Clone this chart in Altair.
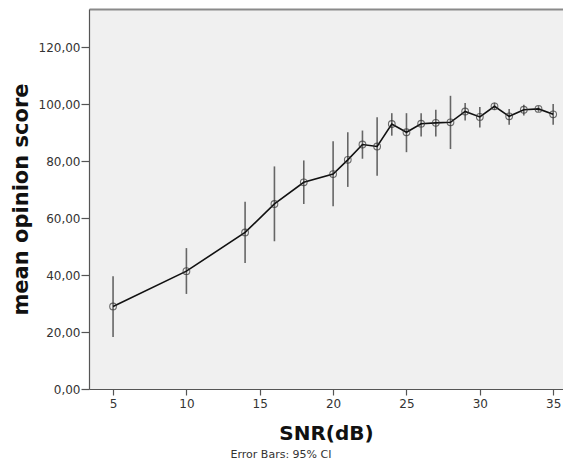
import altair as alt
import pandas as pd

snr = [5, 10, 14, 16, 18, 20, 21, 22, 23, 24, 25, 26, 27, 28, 29, 30, 31, 32, 33, 34, 35]
mean_score = [29.0, 41.4, 55.0, 65.0, 72.6, 75.5, 80.5, 85.9, 85.2, 93.1, 90.2,
              93.2, 93.5, 93.7, 97.5, 95.6, 99.3, 95.8, 98.1, 98.4, 96.5]
ci_low = [18.3, 33.4, 44.3, 51.9, 65.0, 64.2, 71.0, 80.9, 74.9, 89.0, 83.2,
          88.7, 88.7, 84.3, 94.3, 91.9, 98.0, 92.8, 96.1, 97.4, 92.8]
ci_high = [39.6, 49.5, 65.8, 78.2, 80.3, 87.0, 90.2, 90.8, 95.5, 96.9, 96.9,
           96.9, 98.1, 103.0, 100.5, 99.1, 100.6, 98.4, 99.9, 99.4, 100.1]
x_ticks = [5, 10, 15, 20, 25, 30, 35]
y_ticks = [0, 20, 40, 60, 80, 100, 120]

df = pd.DataFrame({"snr": snr, "mean": mean_score, "lo": ci_low, "hi": ci_high})

xscale = alt.Scale(domain=[3.36, 35.67], nice=False, zero=False)
yscale = alt.Scale(domain=[0, 133.5], nice=False, zero=False)

FONT = "DejaVu Sans"

xaxis = alt.Axis(
    values=x_ticks, grid=False, title="SNR(dB)", titleFont=FONT, titleFontSize=20,
    titleFontWeight="bold", titleColor="#111", titlePadding=14,
    labelFont=FONT, labelFontSize=12, labelColor="#333", labelPadding=3,
    domainColor="#555", domainWidth=1.2, tickColor="#555", tickSize=6, tickWidth=1.2,
)
yaxis = alt.Axis(
    values=y_ticks, grid=False, title="mean opinion score", titleFont=FONT,
    titleFontSize=21, titleFontWeight="bold", titleColor="#111", titlePadding=7,
    labelFont=FONT, labelFontSize=12, labelColor="#333", labelPadding=1,
    labelExpr="replace(format(datum.value, '.2f'), '.', ',')",
    domainColor="#555", domainWidth=1.2, tickColor="#555", tickSize=8, tickWidth=1.2,
)
topaxis = alt.Axis(orient="top", labels=False, ticks=False, title=None, grid=False,
                   domainColor="#8a8a8a", domainWidth=2)

base = alt.Chart(df)

errbars = base.mark_rule(color="#666666", strokeWidth=1.6).encode(
    x=alt.X("snr:Q", scale=xscale, axis=xaxis),
    y=alt.Y("lo:Q", scale=yscale, axis=yaxis),
    y2="hi:Q",
)
line = base.mark_line(color="#111111", strokeWidth=1.6).encode(
    x=alt.X("snr:Q", scale=xscale, axis=topaxis),
    y=alt.Y("mean:Q", scale=yscale, axis=None),
)
points = base.mark_point(shape="circle", filled=False, color="#333333", size=45,
                         strokeWidth=1.1).encode(
    x=alt.X("snr:Q", scale=xscale, axis=None),
    y=alt.Y("mean:Q", scale=yscale, axis=None),
)

chart = (
    alt.layer(errbars, line, points)
    .resolve_axis(x="independent", y="independent")
    .properties(
        width=474, height=380,
        padding={"left": 81, "top": 1, "right": 0, "bottom": 84},
        autosize=alt.AutoSizeParams(type="none"),
        view=alt.ViewBackground(fill="#f0f0f0", strokeWidth=0),
        title=alt.TitleParams("Error Bars: 95% CI", orient="bottom", anchor="middle",
                              font=FONT, fontSize=11, fontWeight="normal",
                              color="#333", dx=-45, offset=6),
    )
    .configure_view(fill="#f0f0f0", strokeWidth=0)
    .configure(background="white")
)

chart.save("out.html", embed_options={"renderer": "svg", "actions": False})
